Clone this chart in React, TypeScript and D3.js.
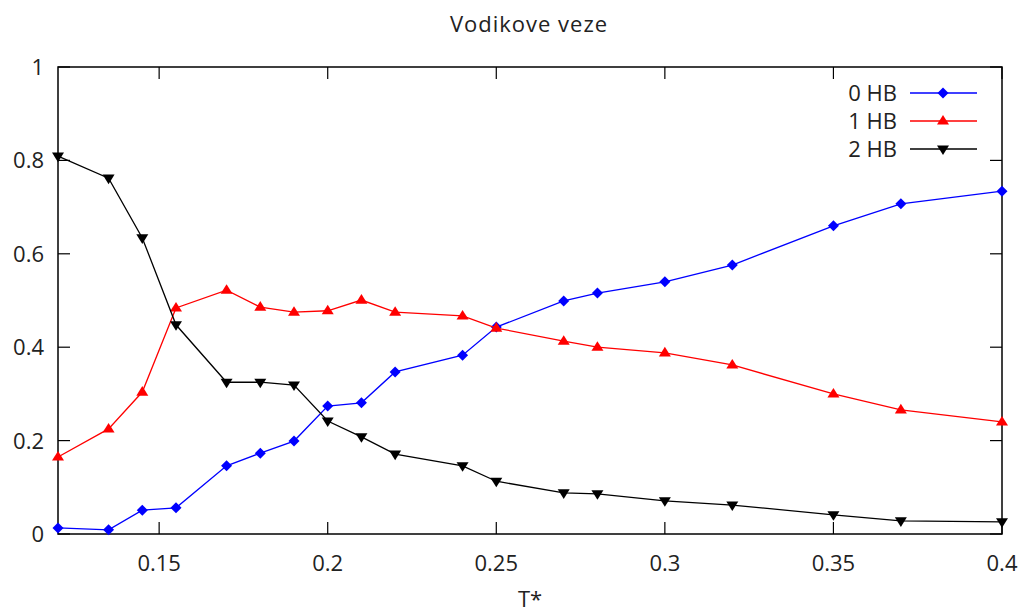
import React from "react";
import * as d3 from "d3";

const temps = [0.12, 0.135, 0.145, 0.155, 0.17, 0.18, 0.19, 0.2, 0.21, 0.22, 0.24, 0.25, 0.27, 0.28, 0.3, 0.32, 0.35, 0.37, 0.4];
const hb0 = [0.013, 0.009, 0.051, 0.056, 0.146, 0.173, 0.199, 0.274, 0.281, 0.347, 0.383, 0.443, 0.499, 0.516, 0.54, 0.576, 0.66, 0.707, 0.734];
const hb1 = [0.165, 0.225, 0.304, 0.484, 0.522, 0.486, 0.475, 0.478, 0.501, 0.475, 0.467, 0.441, 0.413, 0.4, 0.388, 0.362, 0.3, 0.266, 0.24];
const hb2 = [0.809, 0.762, 0.634, 0.448, 0.325, 0.325, 0.319, 0.242, 0.208, 0.171, 0.146, 0.113, 0.088, 0.086, 0.071, 0.062, 0.041, 0.028, 0.026];
const seriesNames = ["0 HB", "1 HB", "2 HB"];
const seriesColors = ["#0000ff", "#ff0000", "#000000"];
const seriesMarkers = ["diamond", "up", "down"];
const xTicks = [0.15, 0.2, 0.25, 0.3, 0.35, 0.4];
const xTickLabels = ["0.15", "0.2", "0.25", "0.3", "0.35", "0.4"];
const yTicks = [0, 0.2, 0.4, 0.6, 0.8, 1];
const yTickLabels = ["0", "0.2", "0.4", "0.6", "0.8", "1"];
const title = "Vodikove veze";
const xLabel = "T*";

const W = 1024, H = 614;
const L = 58, R = 1002, T = 67, B = 534;
const FONT = "'Open Sans', sans-serif";
const FS = 22;

function Marker({ kind, x, y, color }: { kind: string; x: number; y: number; color: string }) {
  if (kind === "diamond") {
    const s = 5.5;
    return <path d={`M${x},${y - s}L${x + s},${y}L${x},${y + s}L${x - s},${y}Z`} fill={color} />;
  }
  const s = 6;
  if (kind === "up") {
    return <path d={`M${x},${y - s}L${x + s},${y + s * 0.6}L${x - s},${y + s * 0.6}Z`} fill={color} />;
  }
  return <path d={`M${x},${y + s}L${x + s},${y - s * 0.6}L${x - s},${y - s * 0.6}Z`} fill={color} />;
}

export default function App() {
  const x = d3.scaleLinear().domain([0.12, 0.4]).range([L, R]);
  const y = d3.scaleLinear().domain([0, 1]).range([B, T]);
  const all = [hb0, hb1, hb2];
  const line = d3.line<[number, number]>().x((d) => x(d[0])).y((d) => y(d[1]));
  const tickLen = 12;
  return (
    <svg width={W} height={H} style={{ display: "block", position: "absolute", left: 0, top: 0 }} fontFamily={FONT}>
      <rect width={W} height={H} fill="#fff" />
      <text x={529} y={32} textAnchor="middle" fontSize={FS} letterSpacing={1} fill="#222">{title}</text>
      {xTicks.map((t, i) => (
        <g key={"x" + i}>
          <line x1={x(t)} x2={x(t)} y1={B} y2={B - tickLen} stroke="#000" strokeWidth={1.2} />
          <line x1={x(t)} x2={x(t)} y1={T} y2={T + tickLen} stroke="#000" strokeWidth={1.2} />
          <text x={x(t)} y={571} textAnchor="middle" fontSize={FS} fill="#222">{xTickLabels[i]}</text>
        </g>
      ))}
      {yTicks.map((t, i) => (
        <g key={"y" + i}>
          <line x1={L} x2={L + tickLen} y1={y(t)} y2={y(t)} stroke="#000" strokeWidth={1.2} />
          <line x1={R} x2={R - tickLen} y1={y(t)} y2={y(t)} stroke="#000" strokeWidth={1.2} />
          <text x={44} y={y(t) + 8} textAnchor="end" fontSize={FS} fill="#222">{yTickLabels[i]}</text>
        </g>
      ))}
      <rect x={L} y={T} width={R - L} height={B - T} fill="none" stroke="#000" strokeWidth={1.5} />
      <text x={530} y={607} textAnchor="middle" fontSize={FS} fill="#222">{xLabel}</text>
      {all.map((vals, si) => {
        const pts = temps.map((t, i) => [t, vals[i]] as [number, number]);
        return (
          <g key={si}>
            <path d={line(pts) || ""} fill="none" stroke={seriesColors[si]} strokeWidth={1.3} />
            {pts.map((p, i) => (
              <Marker key={i} kind={seriesMarkers[si]} x={x(p[0])} y={y(p[1])} color={seriesColors[si]} />
            ))}
          </g>
        );
      })}
      {seriesNames.map((n, i) => {
        const ly = 93 + i * 28;
        return (
          <g key={"l" + i}>
            <text x={897} y={ly + 8} textAnchor="end" fontSize={FS} fill="#222">{n}</text>
            <line x1={910} x2={977} y1={ly} y2={ly} stroke={seriesColors[i]} strokeWidth={1.3} />
            <Marker kind={seriesMarkers[i]} x={943} y={ly} color={seriesColors[i]} />
          </g>
        );
      })}
    </svg>
  );
}
